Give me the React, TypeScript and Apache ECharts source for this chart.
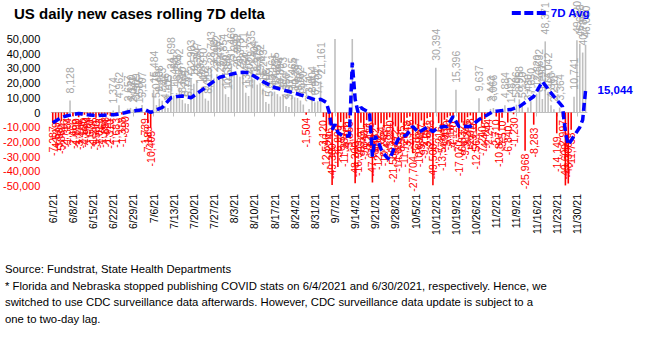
import React, { useEffect, useRef } from 'react';
import * as echarts from 'echarts';

const FONT = "'Liberation Sans Narrow', 'Arial Narrow', 'Liberation Sans', Arial, sans-serif";

const titleText = 'US daily new cases rolling 7D delta';
const seriesName = '7D Avg';
const footnoteLines = [
  'Source: Fundstrat, State Health Departments',
  '* Florida and Nebraska stopped publishing COVID stats on 6/4/2021 and 6/30/2021, respectively. Hence, we',
  'switched to use CDC surveillance data afterwards. However, CDC surveillance data update is subject to a',
  'one to two-day lag.',
];

// categories: daily dates 6/1/21 .. 12/3/21
const dayCount = 186;
const categories: string[] = [];
for (let i = 0; i < dayCount; i++) {
  const d = new Date(2021, 5, 1 + i);
  categories.push(`${d.getMonth() + 1}/${d.getDate()}/21`);
}

// daily delta (bars), by month
const junDelta = [
  -7287, -4519, -3997, -5862, -2716, -1384, 8128, -2466, -1890, -3214,
  -2105, -1530, -984, -2670, -1245, -3580, -2012, -1762, -893, -1421,
  -2310, 1374, -1683, 4962, -1318, -390, 2657, 3120, 2047, 3909,
];
const julDelta = [
  1586, 5107, -1739, -7189, -10405, 15484, 5075, 9408, 7913, 4246,
  3105, 24698, 11483, 13285, 16742, 8610, 6205, 5742, 22903, 19512,
  21347, 14826, 17310, 9462, 8015, 28743, 23108, 25962, 22417, 26854,
  12390,
];
const augDelta = [
  10584, 31466, 27235, 25980, 24373, 28121, 13454, 11207, 29235, 22404,
  18976, 19862, 16243, 7208, 5916, 13161, 14235, 12507, 10894, 11763,
  4350, 3817, 11465, 10284, 9873, 8162, 5420, -1504, 2314, 8804,
  6951,
];
const sepDelta = [
  7707, 21161, -3120, -12546, -8246, -49300, 58400, -36990, -6513, -11287,
  -4210, -3856, 61300, -48200, -16989, -6891, -9840, -5213, -4475, -47619,
  -8432, -12907, -7354, -10248, -4871, -3290, -21568, -9412, -14087, -6935,
];
const octDelta = [
  -11720, -3548, -2716, -27704, -8163, -10892, -5437, -9215, -3861, -2983,
  -49500, 30394, -7216, -13578, -4962, -3410, -2187, -4120, 15396, -17070,
  -6832, -9517, -3245, -2018, -5310, -12563, 9637, -7240, -4418, -2244,
  2443,
];
const novDelta = [
  3066, -2710, -10827, -3510, 4884, -6840, 1482, -1230, 5306, 8958,
  5120, -25968, 3480, 7650, -8283, 12820, 16632, 9190, 48371, 14042,
  4860, 2210, -14149, 3364, -2997, -49600, -48300, -11738, 10741, 49220,
];
const decDelta = [46688, 40788, 46080];

// 7D average (dashed line), by month
const junAvg = [
  -7000, -5800, -4600, -3400, -2800, -2200, -1800, -1400, -1000, -700,
  -900, -1200, -1500, -1700, -1900, -2000, -2000, -1900, -1800, -1700,
  -1600, -1500, -1400, -1000, -600, -200, 300, 700, 1000, 1300,
];
const julAvg = [
  1600, 1800, 2000, 1000, 0, 900, 1800, 2600, 3400, 5500,
  7800, 10000, 10400, 10800, 11100, 11200, 11000, 10500, 10000, 11400,
  12800, 14200, 15600, 17000, 18500, 19900, 21300, 22700, 24000, 24500,
  25000,
];
const augAvg = [
  25500, 26000, 26500, 27000, 27200, 27300, 27200, 27000, 25800, 24600,
  23400, 22200, 21000, 20000, 19000, 18000, 17000, 16500, 15900, 15400,
  14800, 14300, 13700, 13100, 12600, 12000, 11400, 10700, 10100, 9400,
  8800,
];
const sepAvg = [
  8600, 9000, 8000, 6800, 0, -11600, -8000, -13600, -15000, -16000,
  -16000, -16000, 34000, 9000, 0, 3400, 2000, 1000, 0, -30000,
  -16000, -20000, -25000, -28000, -30500, -32000, -27000, -22000, -18000, -17000,
];
const octAvg = [
  -16000, -15000, -12000, -9500, -11500, -13600, -12400, -11200, -10000, -11500,
  -13000, -11500, -10000, -9800, -9600, -9500, -6000, -2700, -6000, -9500,
  -9500, -9500, -9500, -9500, -8000, -6400, -4800, -3700, -2600, -1500,
  -400,
];
const novAvg = [
  700, 900, 1100, 1300, 1600, 1800, 2000, 2700, 3300, 4000,
  5400, 6800, 8100, 9500, 10900, 14300, 17600, 21000, 18500, 16000,
  13400, 10900, 8600, 6300, 4000, -13600, -22000, -19000, -16000, -13000,
];
const decAvg = [-10000, -5000, 15044];

const dailyDelta = [...junDelta, ...julDelta, ...augDelta, ...sepDelta, ...octDelta, ...novDelta, ...decDelta];
const avg7d = [...junAvg, ...julAvg, ...augAvg, ...sepAvg, ...octAvg, ...novAvg, ...decAvg];

const Y_MIN = -50000;
const Y_MAX = 50000;
const Y_STEP = 10000;

const fmt = (v: number) => Math.round(v).toLocaleString('en-US');

export default function App() {
  const ref = useRef<HTMLDivElement>(null);
  useEffect(() => {
    document.body.style.margin = '0';
    if (!ref.current) return;
    const chart = echarts.init(ref.current, null, { renderer: 'svg' });
    const barData = dailyDelta.map((v) => {
      const pos = v >= 0;
      const deep = v < -33000;
      return {
        value: v,
        itemStyle: { color: pos ? '#bfbfbf' : '#ff0000' },
        label: {
          show: Math.abs(v) <= 50000,
          position: pos ? 'top' : deep ? 'insideBottom' : 'bottom',
          rotate: 90,
          align: pos || deep ? 'left' : 'right',
          verticalAlign: 'middle',
          distance: pos ? 7 : deep ? 6 : 3,
          color: pos ? '#a6a6a6' : '#ff0000',
          formatter: (p: any) => fmt(p.value),
        },
      };
    });
    chart.setOption({
      animation: false,
      textStyle: { fontFamily: FONT },
      title: {
        text: titleText,
        left: 14,
        top: 6,
        padding: 0,
        textStyle: { fontSize: 15, fontWeight: 'bold', color: '#000', fontFamily: FONT },
      },
      legend: {
        data: [
          {
            name: seriesName,
            icon: 'path://M0,0H9V4H0Z M12.5,0H21.5V4H12.5Z M25,0H34V4H25Z',
            itemStyle: { color: '#0000ff' },
          },
        ],
        right: 56,
        top: 7,
        padding: 0,
        itemWidth: 34,
        itemHeight: 4,
        itemGap: 5,
        textStyle: { color: '#0000ff', fontWeight: 'bold', fontSize: 11.5, fontFamily: FONT },
      },
      grid: { left: 46, right: 59, top: 39, bottom: 163, containLabel: false },
      xAxis: [
        {
          type: 'category',
          data: categories,
          position: 'bottom',
          axisLine: { show: false, onZero: false },
          axisTick: { show: false },
          axisLabel: {
            interval: 6,
            rotate: 90,
            margin: 8,
            fontSize: 10.5,
            color: '#000',
            fontFamily: FONT,
          },
        },
        {
          type: 'category',
          data: categories,
          position: 'top',
          axisLine: { show: true, onZero: true, lineStyle: { color: '#bfbfbf', width: 1 } },
          axisTick: { show: true, inside: true, interval: 6, alignWithLabel: true, length: 4, lineStyle: { color: '#bfbfbf' } },
          axisLabel: { show: false },
        },
      ],
      yAxis: {
        type: 'value',
        min: Y_MIN,
        max: Y_MAX,
        interval: Y_STEP,
        axisLine: { show: false },
        axisTick: { show: false },
        splitLine: { show: false },
        axisLabel: {
          margin: 11,
          fontSize: 11,
          fontFamily: FONT,
          formatter: (v: number) => fmt(v),
          color: (v: any) => (Number(v) < 0 ? '#ff0000' : '#000'),
        },
      },
      series: [
        {
          type: 'bar',
          name: 'Daily delta',
          xAxisIndex: 0,
          data: barData,
          barWidth: '55%',
          label: { fontSize: 10.5, fontFamily: FONT },
          z: 2,
        },
        {
          type: 'line',
          name: seriesName,
          xAxisIndex: 0,
          data: avg7d,
          symbol: 'none',
          smooth: false,
          lineStyle: { color: '#0000ff', width: 3.5, type: [8, 4] },
          itemStyle: { color: '#0000ff' },
          endLabel: {
            show: true,
            formatter: (p: any) => fmt(p.value),
            color: '#0000ff',
            fontWeight: 'bold',
            fontSize: 11.5,
            distance: 12,
            fontFamily: FONT,
          },
          z: 5,
        },
      ],
      graphic: [
        {
          type: 'text',
          left: 5,
          top: 261,
          style: {
            text: footnoteLines.join('\n'),
            font: `11.3px ${FONT}`,
            lineHeight: 16.5,
            fill: '#000',
          },
        },
      ],
    });
    return () => chart.dispose();
  }, []);
  return <div ref={ref} style={{ width: 646, height: 349 }} />;
}
